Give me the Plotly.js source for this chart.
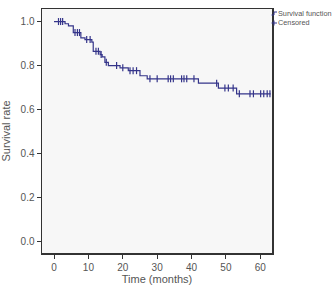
<!DOCTYPE html>
<html>
<head>
<meta charset="utf-8">
<script src="https://cdn.plot.ly/plotly-3.0.1.min.js"></script>
<style>html,body{margin:0;padding:0;background:#fff}#chart{width:336px;height:285px}</style>
</head>
<body>
<div id="chart"></div>
<script>
// Kaplan-Meier step curve (event times in months, survival after each step)
var stepTimes = [0, 3.2, 4.2, 5.6, 7.8, 9, 11, 11.4, 13.4, 14, 14.8, 15.8, 19.2, 21.6, 25, 27.1, 42, 47.8, 53.1, 63];
var stepSurv  = [1.0, 0.99, 0.98, 0.95, 0.926, 0.918, 0.907, 0.865, 0.85, 0.84, 0.815, 0.80, 0.79, 0.777, 0.754, 0.74, 0.72, 0.698, 0.672, 0.672];
// Censored observation times
var censorTimes = [1.3, 1.9, 2.5, 6.1, 6.8, 7.4, 9.5, 10.5, 12.2, 12.9, 13.7, 15.2, 18.2, 20, 22.1, 23, 24, 27.9, 30, 33.2, 33.9, 34.7, 37.1, 37.8, 38.6, 40.7, 47.3, 49.7, 50.7, 52.1, 53.9, 57, 58, 60.1, 61, 62, 62.8];
var xTicks = [0, 10, 20, 30, 40, 50, 60];
var yTicks = [0, 0.2, 0.4, 0.6, 0.8, 1.0];
var legendLabels = ["Survival function", "Censored"];

function survAt(t) {
  var s = stepSurv[0];
  for (var i = 0; i < stepTimes.length; i++) { if (stepTimes[i] <= t) s = stepSurv[i]; }
  return s;
}
var censorSurv = censorTimes.map(survAt);

var lineColor = '#35358a';
var textColor = '#555555';

var traces = [
  {x: stepTimes, y: stepSurv, mode: 'lines', line: {shape: 'hv', color: lineColor, width: 1.2}, name: legendLabels[0], hoverinfo: 'x+y'},
  {x: censorTimes, y: censorSurv, mode: 'markers', marker: {symbol: 'line-ns', size: 5, line: {color: lineColor, width: 1.2}}, name: legendLabels[1]}
];

function px(x) { return (x - 42) / 230; }
function py(y) { return (253 - y) / 244; }

var legendFont = {family: 'Liberation Sans, Arial, sans-serif', size: 7.3, color: textColor};

var layout = {
  width: 336, height: 285,
  margin: {l: 42, r: 64, t: 9, b: 32},
  paper_bgcolor: '#ffffff',
  plot_bgcolor: '#f7f7f7',
  showlegend: false,
  font: {family: 'Liberation Sans, Arial, sans-serif', color: textColor, size: 10},
  xaxis: {
    range: [-3.5, 63.4], tickvals: xTicks, ticks: 'outside', ticklen: 4, tickcolor: '#333',
    showgrid: false, zeroline: false, showline: true, linecolor: '#333', linewidth: 1.5, mirror: true,
    tickfont: {size: 10, color: textColor},
    title: {text: 'Time (months)', font: {size: 11, color: textColor}, standoff: 4}
  },
  yaxis: {
    range: [-0.051, 1.057], tickvals: yTicks, tickformat: '.1f', ticks: 'outside', ticklen: 4, tickcolor: '#333',
    showgrid: false, zeroline: false, showline: true, linecolor: '#333', linewidth: 1.5, mirror: true,
    tickfont: {size: 10, color: textColor},
    title: {text: 'Survival rate', font: {size: 11, color: textColor}, standoff: 10}
  },
  shapes: [
    {type: 'path', xref: 'paper', yref: 'paper', path: 'M ' + px(271.5) + ' ' + py(15) + ' L ' + px(274) + ' ' + py(15) + ' L ' + px(274) + ' ' + py(12) + ' L ' + px(277) + ' ' + py(12), line: {color: lineColor, width: 1}},
    {type: 'line', xref: 'paper', yref: 'paper', x0: px(271.5), x1: px(277), y0: py(23), y1: py(23), line: {color: lineColor, width: 1}},
    {type: 'line', xref: 'paper', yref: 'paper', x0: px(274), x1: px(274), y0: py(20.5), y1: py(25.5), line: {color: lineColor, width: 1}}
  ],
  annotations: [
    {xref: 'paper', yref: 'paper', x: px(276.5), y: py(13.5), xanchor: 'left', yanchor: 'middle', xshift: 0, text: legendLabels[0], showarrow: false, font: legendFont, borderpad: 0},
    {xref: 'paper', yref: 'paper', x: px(276.5), y: py(23), xanchor: 'left', yanchor: 'middle', text: legendLabels[1], showarrow: false, font: legendFont, borderpad: 0}
  ]
};

Plotly.newPlot('chart', traces, layout, {displayModeBar: false, staticPlot: true});
</script>
</body>
</html>
